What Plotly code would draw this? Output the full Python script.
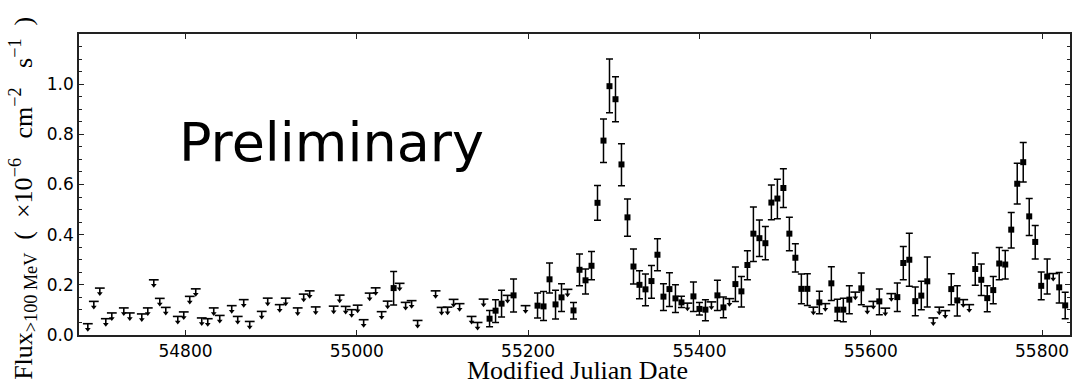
import plotly.graph_objects as go

# ---------------- data ----------------
# Upper limits (weekly bins, MJD, flux >100 MeV in 1e-6 ph cm^-2 s^-1)
ul_mjd = [54686, 54693, 54700, 54707, 54714, 54728, 54735, 54749, 54756, 54763,
          54770, 54777, 54791, 54798, 54805, 54812, 54819, 54826, 54833, 54840,
          54854, 54861, 54868, 54875, 54889, 54896, 54910, 54917, 54931, 54938,
          54945, 54952, 54973, 54980, 54987, 54994, 55001, 55008, 55015, 55022,
          55029, 55036, 55050, 55057, 55064, 55071, 55092, 55099, 55106, 55113,
          55120, 55134, 55141, 55148, 55176, 55197, 55246, 55386, 55414, 55435,
          55533, 55547, 55582, 55596, 55603, 55617, 55624, 55673, 55680, 55687,
          55708, 55715, 55813]
ul_flux = [0.045, 0.134, 0.187, 0.065, 0.088, 0.108, 0.088, 0.084, 0.108, 0.220,
           0.146, 0.110, 0.074, 0.092, 0.154, 0.184, 0.068, 0.065, 0.108, 0.078,
           0.117, 0.074, 0.141, 0.054, 0.094, 0.147, 0.121, 0.147, 0.108, 0.163,
           0.176, 0.112, 0.115, 0.159, 0.114, 0.101, 0.119, 0.061, 0.167, 0.188,
           0.093, 0.135, 0.206, 0.130, 0.137, 0.058, 0.176, 0.110, 0.111, 0.142,
           0.125, 0.074, 0.050, 0.143, 0.158, 0.117, 0.182, 0.127, 0.132, 0.145,
           0.111, 0.125, 0.171, 0.114, 0.134, 0.107, 0.165, 0.068, 0.111, 0.097,
           0.141, 0.121, 0.245]

# Detections: value, upper end and lower end of the error bar
det_mjd = [55043, 55155, 55162, 55169, 55183, 55211, 55218, 55225, 55232, 55239,
           55253, 55260, 55267, 55274, 55281, 55288, 55295, 55302, 55309, 55316,
           55323, 55330, 55337, 55344, 55351, 55358, 55365, 55372, 55379, 55393,
           55400, 55407, 55421, 55428, 55442, 55449, 55456, 55463, 55470, 55477,
           55484, 55491, 55498, 55505, 55512, 55519, 55526, 55540, 55554, 55561,
           55568, 55575, 55589, 55610, 55631, 55638, 55645, 55652, 55659, 55666,
           55694, 55701, 55722, 55729, 55736, 55743, 55750, 55757, 55764, 55771,
           55778, 55785, 55792, 55799, 55806, 55820, 55827]
det_flux = [0.187, 0.065, 0.097, 0.125, 0.158, 0.117, 0.114, 0.222, 0.122, 0.150,
            0.098, 0.260, 0.218, 0.276, 0.527, 0.775, 0.992, 0.940, 0.680, 0.469,
            0.273, 0.200, 0.182, 0.215, 0.320, 0.153, 0.183, 0.146, 0.130, 0.154,
            0.104, 0.101, 0.158, 0.110, 0.203, 0.174, 0.279, 0.404, 0.386, 0.366,
            0.528, 0.544, 0.586, 0.404, 0.308, 0.184, 0.184, 0.130, 0.206, 0.101,
            0.101, 0.141, 0.186, 0.134, 0.151, 0.287, 0.300, 0.135, 0.157, 0.214,
            0.183, 0.138, 0.263, 0.220, 0.147, 0.179, 0.285, 0.281, 0.420, 0.603,
            0.689, 0.473, 0.371, 0.196, 0.233, 0.190, 0.118]
det_hi = [0.253, 0.098, 0.141, 0.178, 0.223, 0.167, 0.173, 0.287, 0.178, 0.204,
          0.130, 0.323, 0.263, 0.333, 0.596, 0.861, 1.100, 1.030, 0.762, 0.542,
          0.343, 0.256, 0.243, 0.277, 0.384, 0.204, 0.248, 0.200, 0.154, 0.211,
          0.130, 0.141, 0.218, 0.151, 0.271, 0.233, 0.336, 0.510, 0.458, 0.433,
          0.598, 0.621, 0.663, 0.469, 0.364, 0.243, 0.244, 0.174, 0.272, 0.143,
          0.147, 0.196, 0.247, 0.183, 0.207, 0.353, 0.406, 0.191, 0.214, 0.311,
          0.244, 0.196, 0.327, 0.283, 0.196, 0.233, 0.349, 0.337, 0.488, 0.685,
          0.767, 0.544, 0.437, 0.251, 0.303, 0.249, 0.170]
det_lo = [0.120, 0.033, 0.050, 0.072, 0.092, 0.068, 0.058, 0.167, 0.064, 0.094,
          0.064, 0.196, 0.163, 0.220, 0.457, 0.688, 0.886, 0.850, 0.595, 0.394,
          0.203, 0.145, 0.117, 0.147, 0.256, 0.098, 0.114, 0.090, 0.110, 0.094,
          0.080, 0.057, 0.098, 0.069, 0.134, 0.112, 0.220, 0.293, 0.313, 0.300,
          0.459, 0.463, 0.508, 0.336, 0.251, 0.125, 0.118, 0.085, 0.138, 0.057,
          0.053, 0.085, 0.121, 0.081, 0.094, 0.220, 0.194, 0.077, 0.101, 0.112,
          0.121, 0.076, 0.198, 0.157, 0.093, 0.125, 0.220, 0.223, 0.347, 0.522,
          0.610, 0.397, 0.303, 0.141, 0.163, 0.128, 0.065]

x_ticks = [54800, 55000, 55200, 55400, 55600, 55800]
x_ticklabels = ["54800", "55000", "55200", "55400", "55600", "55800"]
y_ticks = [0.0, 0.2, 0.4, 0.6, 0.8, 1.0]
y_ticklabels = ["0.0", "0.2", "0.4", "0.6", "0.8", "1.0"]

# ---------------- styling ----------------
X_RANGE = [54675.7, 55832.6]
Y_RANGE = [0.0, 1.2]
STEM = 0.022          # length of the upper-limit arrow stem (flux units)
INK = "black"
AXC = "#222222"

fig = go.Figure()

# upper limits: cap + stem
fig.add_trace(go.Scatter(
    x=ul_mjd, y=ul_flux, mode="markers",
    marker=dict(symbol="line-ew", size=7, line=dict(width=1.6, color=INK)),
    error_y=dict(type="data", symmetric=False,
                 array=[0.0] * len(ul_flux), arrayminus=[STEM] * len(ul_flux),
                 width=0, thickness=1.6, color=INK),
    hoverinfo="skip", showlegend=False))
# upper limits: arrow heads
fig.add_trace(go.Scatter(
    x=ul_mjd, y=[v - STEM for v in ul_flux], mode="markers",
    marker=dict(symbol="triangle-down", size=5, color=INK, line=dict(width=0)),
    hoverinfo="skip", showlegend=False))

# detections
fig.add_trace(go.Scatter(
    x=det_mjd, y=det_flux, mode="markers",
    marker=dict(symbol="square", size=6, color=INK, line=dict(width=0)),
    error_y=dict(type="data", symmetric=False,
                 array=[h - f for h, f in zip(det_hi, det_flux)],
                 arrayminus=[f - l for f, l in zip(det_flux, det_lo)],
                 width=3.5, thickness=1.5, color=INK),
    showlegend=False))

tickfont = dict(family="DejaVu Sans", size=17, color="black")
fig.update_xaxes(
    range=X_RANGE, tickmode="array", tickvals=x_ticks, ticktext=x_ticklabels,
    ticks="inside", ticklen=5, tickwidth=1.2, tickcolor=AXC,
    showline=True, linecolor=AXC, linewidth=1.6, mirror="allticks",
    showgrid=False, zeroline=False, tickfont=tickfont)
fig.update_yaxes(
    range=Y_RANGE, tickmode="array", tickvals=y_ticks, ticktext=y_ticklabels,
    ticks="inside", ticklen=5, tickwidth=1.2, tickcolor=AXC,
    minor=dict(tickmode="linear", tick0=0, dtick=0.05, ticks="inside",
               ticklen=3, tickwidth=1, tickcolor=AXC, showgrid=False),
    showline=True, linecolor=AXC, linewidth=1.6, mirror="allticks",
    showgrid=False, zeroline=False, tickfont=tickfont)

ytitle = ("Flux<sub>&gt;100 MeV</sub>&nbsp;&nbsp;(&nbsp;&nbsp;×10<sup>−6</sup>"
          "&nbsp;&nbsp;&nbsp;cm<sup>−2</sup>&nbsp;&nbsp;&nbsp;s<sup>−1</sup>&nbsp;&nbsp;)")

fig.update_layout(
    width=1074, height=388,
    margin=dict(l=79, r=2, t=34, b=53),
    plot_bgcolor="white", paper_bgcolor="white",
    showlegend=False,
    annotations=[
        dict(text="Preliminary", x=54790, y=0.766, xref="x", yref="y",
             xanchor="left", yanchor="middle", showarrow=False,
             font=dict(family="DejaVu Sans", size=54, color="black")),
        dict(text="Modified Julian Date", x=0.503, y=-0.1716,
             xref="paper", yref="paper", xanchor="center", yanchor="bottom",
             showarrow=False,
             font=dict(family="Liberation Serif", size=26, color="black")),
        dict(text=ytitle,
             x=-0.0567, y=0.455, xref="paper", yref="paper",
             xanchor="center", yanchor="middle", textangle=-90,
             showarrow=False,
             font=dict(family="Liberation Serif", size=26, color="black")),
    ],
)

fig.write_html("out.html")
